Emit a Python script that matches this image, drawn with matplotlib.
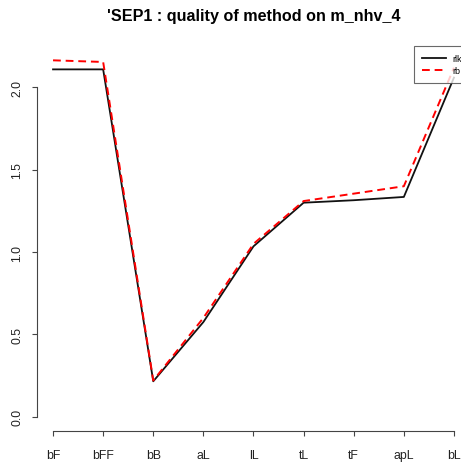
import matplotlib
matplotlib.use("Agg")
import matplotlib.pyplot as plt

plt.rcParams["font.family"] = ["Liberation Sans", "DejaVu Sans"]

# data
methods = ["bF", "bFF", "bB", "aL", "lL", "tL", "tF", "apL", "bL"]
rlk = [2.11, 2.11, 0.215, 0.575, 1.035, 1.30, 1.315, 1.335, 2.06]
rb = [2.165, 2.155, 0.22, 0.60, 1.05, 1.31, 1.355, 1.40, 2.12]
y_ticks = [0.0, 0.5, 1.0, 1.5, 2.0]

W, H = 461, 464
fig = plt.figure(figsize=(W / 100, H / 100), dpi=100)
# R-like plot region (it runs a bit past the right edge)
ax = fig.add_axes([37 / W, (H - 432) / H, (470 - 37) / W, (432 - 47) / H])

x = list(range(1, len(methods) + 1))
ax.plot(x, rlk, color="#111111", lw=1.3, label="rlk", zorder=2)
ax.plot(x, rb, color="red", lw=1.4, ls=(0, (4, 2.5)), label="rb", zorder=3)

ax.set_xlim(1 - 0.32, 9 + 0.32)
ax.set_ylim(-0.087, 2.252)

for s in ["top", "right"]:
    ax.spines[s].set_visible(False)
ax.spines["left"].set_bounds(0, 2)
ax.spines["bottom"].set_bounds(1, 9)
for s in ["left", "bottom"]:
    ax.spines[s].set_color("#444444")
    ax.spines[s].set_linewidth(0.8)

ax.set_xticks(x)
ax.set_xticklabels(methods)
ax.set_yticks(y_ticks)
ax.set_yticklabels([f"{v:.1f}" for v in y_ticks], rotation=90, va="center")
ax.tick_params(axis="both", length=3.8, width=0.8, color="#444444",
               labelsize=8.8, labelcolor="#222222")
ax.tick_params(axis="x", pad=9)
ax.tick_params(axis="y", pad=6)

ax.set_title("'SEP1 : quality of method on m_nhv_4", fontsize=11.6,
             fontweight="bold", x=(254 - 37) / (470 - 37), y=1.0, pad=18.5)

leg = ax.legend(loc="upper right", fontsize=6.5, frameon=True, fancybox=False,
                borderaxespad=0.0, handlelength=2.6, labelspacing=0.35,
                borderpad=0.85)
leg.get_frame().set_edgecolor("#444444")
leg.get_frame().set_linewidth(0.8)
leg.set_zorder(5)

fig.savefig("out.png", dpi=100)
